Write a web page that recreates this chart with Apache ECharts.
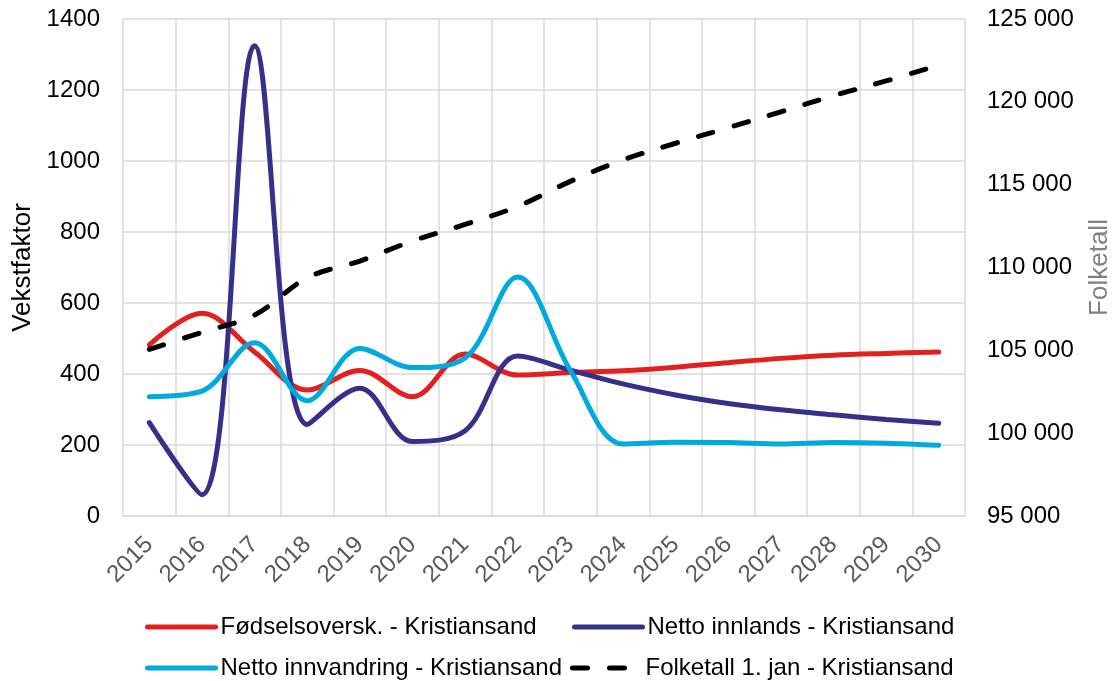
<!DOCTYPE html>
<html>
<head>
<meta charset="utf-8">
<script src="https://cdn.jsdelivr.net/npm/echarts@6/dist/echarts.min.js"></script>
<style>
  html, body { margin: 0; padding: 0; background: #fff; }
  #chart { width: 1112px; height: 681px; }
</style>
</head>
<body>
<div id="chart"></div>
<script>
// data
var years = ['2015', '2016', '2017', '2018', '2019', '2020', '2021', '2022',
  '2023', '2024', '2025', '2026', '2027', '2028', '2029', '2030'];
var fodselsoverskudd = [482, 571, 462, 355, 410, 336, 456, 397, 404, 409, 419, 432, 444, 453, 458, 462];
var nettoInnlands = [263, 60, 1325, 258, 360, 210, 240, 451, 411, 372, 341, 317, 299, 285, 272, 261];
var nettoInnvandring = [336, 352, 488, 325, 472, 418, 445, 673, 410, 203, 208, 207, 203, 207, 205, 199];
var folketall = [105060, 106090, 107130, 109380, 110390, 111600, 112600, 113690,
  115200, 116490, 117500, 118440, 119400, 120370, 121260, 122220];

var names = ['Fødselsoversk. - Kristiansand', 'Netto innlands - Kristiansand',
  'Netto innvandring - Kristiansand', 'Folketall 1. jan - Kristiansand'];
var colors = ['#E1201F', '#36308A', '#00AADC', '#000000'];

var font = 'Liberation Sans, Arial, sans-serif';

function spaced(v) {
  return String(v).replace(/\B(?=(\d{3})+(?!\d))/g, ' ');
}

function legendAt(name, left, top) {
  return {
    data: [name],
    left: left,
    top: top,
    padding: 0,
    itemWidth: 68,
    itemHeight: 14,
    itemGap: 0,
    textStyle: { fontFamily: font, fontSize: 24, color: '#000' },
    lineStyle: { width: 5 },
    itemStyle: { opacity: 0 }
  };
}

var myChart = echarts.init(document.getElementById('chart'));

var option = {
  animation: false,
  grid: { left: 123, right: 147, top: 19, height: 497, outerBoundsMode: 'none', containLabel: false },
  legend: [
    legendAt(names[0], 145, 615),
    legendAt(names[1], 572, 615),
    legendAt(names[2], 145, 656),
    legendAt(names[3], 570, 656)
  ],
  xAxis: {
    type: 'category',
    data: years,
    boundaryGap: true,
    axisLine: { lineStyle: { color: '#D9D9D9', width: 1.5 } },
    axisTick: { show: false },
    splitLine: { show: true, lineStyle: { color: '#D9D9D9', width: 1.5 } },
    axisLabel: {
      rotate: 45,
      interval: 0,
      margin: 25,
      color: '#595959',
      fontFamily: font,
      fontSize: 24
    }
  },
  yAxis: [
    {
      type: 'value',
      min: 0,
      max: 1400,
      interval: 200,
      name: 'Vekstfaktor',
      nameLocation: 'middle',
      nameGap: 85,
      nameRotate: 90,
      nameTextStyle: { fontFamily: font, fontSize: 26, color: '#000' },
      axisLine: { show: false },
      axisTick: { show: false },
      splitLine: { lineStyle: { color: '#D9D9D9', width: 1.5 } },
      axisLabel: { margin: 23, color: '#000', fontFamily: font, fontSize: 24, formatter: function (v) { return String(v); } }
    },
    {
      type: 'value',
      min: 95000,
      max: 125000,
      interval: 5000,
      position: 'right',
      name: 'Folketall',
      nameLocation: 'middle',
      nameGap: 122,
      nameRotate: 90,
      nameTextStyle: { fontFamily: font, fontSize: 26, color: '#808080' },
      axisLine: { show: false },
      axisTick: { show: false },
      splitLine: { show: false },
      axisLabel: {
        margin: 22,
        color: '#000',
        fontFamily: font,
        fontSize: 24,
        formatter: spaced
      }
    }
  ],
  series: [
    {
      name: names[0],
      type: 'line',
      data: fodselsoverskudd,
      smooth: 0.35,
      smoothConstraint: false,
      symbol: 'none',
      lineStyle: { color: colors[0], width: 5, cap: 'round' },
      itemStyle: { color: colors[0] }
    },
    {
      name: names[1],
      type: 'line',
      data: nettoInnlands,
      smooth: 0.35,
      smoothConstraint: false,
      symbol: 'none',
      lineStyle: { color: colors[1], width: 5, cap: 'round' },
      itemStyle: { color: colors[1] }
    },
    {
      name: names[2],
      type: 'line',
      data: nettoInnvandring,
      smooth: 0.35,
      smoothConstraint: false,
      symbol: 'none',
      lineStyle: { color: colors[2], width: 5, cap: 'round' },
      itemStyle: { color: colors[2] }
    },
    {
      name: names[3],
      type: 'line',
      yAxisIndex: 1,
      data: folketall,
      smooth: 0.35,
      smoothConstraint: false,
      symbol: 'none',
      lineStyle: { color: colors[3], width: 5, type: [15, 22], cap: 'round' },
      itemStyle: { color: colors[3] }
    }
  ]
};

myChart.setOption(option);
</script>
</body>
</html>
